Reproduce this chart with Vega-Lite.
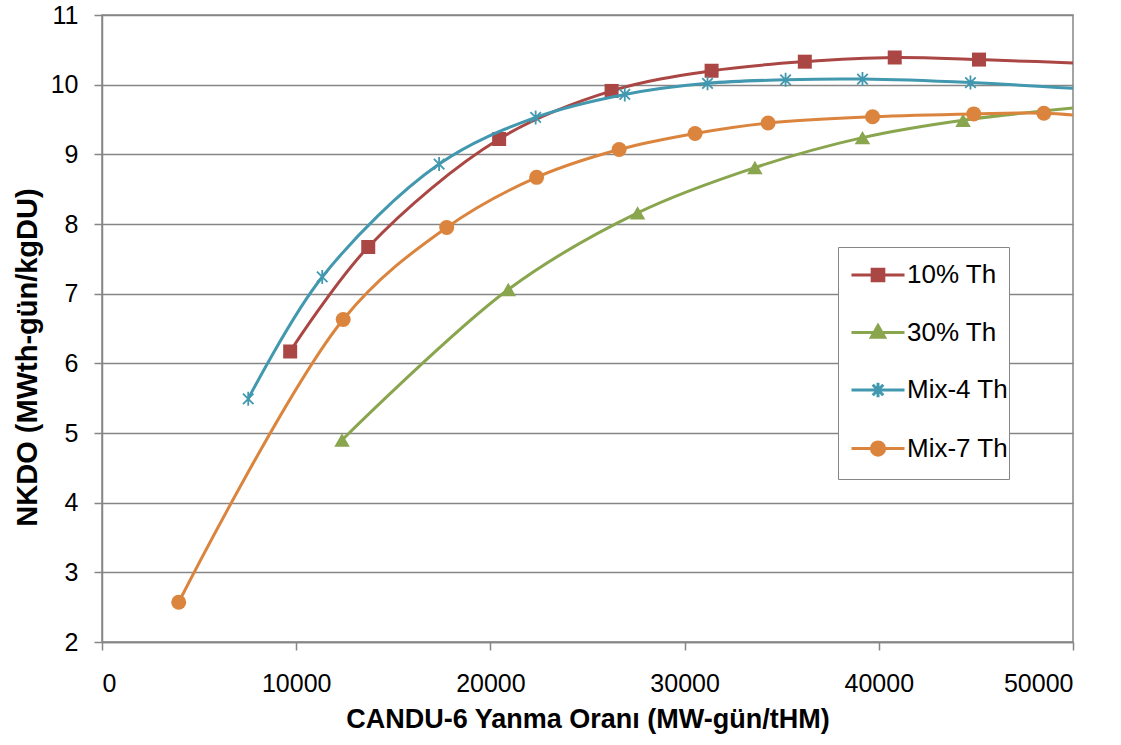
{
  "$schema": "https://vega.github.io/schema/vega-lite/v6.json",
  "width": 971,
  "height": 627,
  "autosize": "none",
  "padding": {"left": 102, "top": 15, "right": 48, "bottom": 103},
  "background": "white",
  "config": {
    "view": {"stroke": "#868686", "strokeWidth": 1.5},
    "font": "Liberation Sans",
    "axis": {
      "labelFont": "Liberation Sans",
      "labelFontSize": 25,
      "labelColor": "#000000",
      "titleFont": "Liberation Sans",
      "titleFontSize": 27,
      "titleFontWeight": "bold",
      "titleColor": "#000000",
      "domainColor": "#868686",
      "domainWidth": 1.5,
      "tickColor": "#868686",
      "tickWidth": 1.5,
      "tickSize": 8,
      "gridColor": "#868686",
      "gridWidth": 1.5
    }
  },
  "data": {
    "values": [
      {"s": "10% Th", "x": 9690, "y": 6.17},
      {"s": "10% Th", "x": 13710, "y": 7.67},
      {"s": "10% Th", "x": 20450, "y": 9.22},
      {"s": "10% Th", "x": 26240, "y": 9.91},
      {"s": "10% Th", "x": 31390, "y": 10.2},
      {"s": "10% Th", "x": 36190, "y": 10.33},
      {"s": "10% Th", "x": 40820, "y": 10.39},
      {"s": "10% Th", "x": 45160, "y": 10.36},
      {"s": "10% Th", "x": 52000, "y": 10.29},
      {"s": "30% Th", "x": 12360, "y": 4.9},
      {"s": "30% Th", "x": 20920, "y": 7.06},
      {"s": "30% Th", "x": 27580, "y": 8.16},
      {"s": "30% Th", "x": 33620, "y": 8.81},
      {"s": "30% Th", "x": 39160, "y": 9.24},
      {"s": "30% Th", "x": 44340, "y": 9.49},
      {"s": "30% Th", "x": 51000, "y": 9.69},
      {"s": "Mix-4 Th", "x": 7530, "y": 5.49},
      {"s": "Mix-4 Th", "x": 11340, "y": 7.24},
      {"s": "Mix-4 Th", "x": 17360, "y": 8.86},
      {"s": "Mix-4 Th", "x": 22330, "y": 9.53},
      {"s": "Mix-4 Th", "x": 26920, "y": 9.86},
      {"s": "Mix-4 Th", "x": 31180, "y": 10.02},
      {"s": "Mix-4 Th", "x": 35200, "y": 10.07},
      {"s": "Mix-4 Th", "x": 39160, "y": 10.08},
      {"s": "Mix-4 Th", "x": 44720, "y": 10.03},
      {"s": "Mix-4 Th", "x": 50500, "y": 9.94},
      {"s": "Mix-7 Th", "x": 3950, "y": 2.57},
      {"s": "Mix-7 Th", "x": 12420, "y": 6.63},
      {"s": "Mix-7 Th", "x": 17750, "y": 7.95},
      {"s": "Mix-7 Th", "x": 22380, "y": 8.67},
      {"s": "Mix-7 Th", "x": 26630, "y": 9.07},
      {"s": "Mix-7 Th", "x": 30540, "y": 9.3},
      {"s": "Mix-7 Th", "x": 34300, "y": 9.45},
      {"s": "Mix-7 Th", "x": 39680, "y": 9.54},
      {"s": "Mix-7 Th", "x": 44890, "y": 9.58},
      {"s": "Mix-7 Th", "x": 48500, "y": 9.59},
      {"s": "Mix-7 Th", "x": 51000, "y": 9.54}
    ]
  },
  "encoding": {
    "x": {
      "field": "x",
      "type": "quantitative",
      "scale": {"domain": [0, 50000], "nice": false, "zero": false},
      "axis": {
        "values": [0, 10000, 20000, 30000, 40000, 50000],
        "format": "d",
        "grid": false,
        "labelPadding": 21,
        "titlePadding": 10,
        "title": "CANDU-6 Yanma Oranı (MW-gün/tHM)"
      }
    },
    "y": {
      "field": "y",
      "type": "quantitative",
      "scale": {"domain": [2, 11], "nice": false, "zero": false},
      "axis": {
        "values": [2, 3, 4, 5, 6, 7, 8, 9, 10, 11],
        "grid": true,
        "labelPadding": 16,
        "title": "NKDO (MWth-gün/kgDU)",
        "titleFontSize": 29,
        "titleX": -75,
        "titleY": 342,
        "titleBaseline": "middle",
        "titleAlign": "center",
        "titleAngle": -90
      }
    }
  },
  "layer": [
    {
      "transform": [{"filter": "datum.s == '10% Th'"}],
      "mark": {"type": "line", "strokeWidth": 3, "interpolate": "catmull-rom", "color": "#AA4643", "clip": true},
      "encoding": {}
    },
    {
      "transform": [{"filter": "datum.s == '10% Th'"}],
      "mark": {"type": "point", "shape": "square", "size": 196, "filled": true, "opacity": 1, "color": "#AA4643", "clip": true},
      "encoding": {}
    },
    {
      "transform": [{"filter": "datum.s == '30% Th'"}],
      "mark": {"type": "line", "strokeWidth": 3, "interpolate": "catmull-rom", "color": "#89A54E", "clip": true},
      "encoding": {}
    },
    {
      "transform": [{"filter": "datum.s == '30% Th'"}],
      "mark": {"type": "point", "shape": "triangle-up", "size": 240, "filled": true, "opacity": 1, "color": "#89A54E", "clip": true},
      "encoding": {}
    },
    {
      "transform": [{"filter": "datum.s == 'Mix-4 Th'"}],
      "mark": {"type": "line", "strokeWidth": 3, "interpolate": "catmull-rom", "color": "#4198AF", "clip": true},
      "encoding": {}
    },
    {
      "transform": [{"filter": "datum.s == 'Mix-4 Th'"}],
      "mark": {"type": "point", "shape": "M-0.75,-0.75L0.75,0.75M-0.75,0.75L0.75,-0.75M0,-1L0,1", "size": 196, "filled": false, "opacity": 1, "strokeWidth": 1.8, "color": "#4198AF", "clip": true},
      "encoding": {}
    },
    {
      "transform": [{"filter": "datum.s == 'Mix-7 Th'"}],
      "mark": {"type": "line", "strokeWidth": 3, "interpolate": "catmull-rom", "color": "#DB843D", "clip": true},
      "encoding": {}
    },
    {
      "transform": [{"filter": "datum.s == 'Mix-7 Th'"}],
      "mark": {"type": "point", "shape": "circle", "size": 225, "filled": true, "opacity": 1, "color": "#DB843D", "clip": true},
      "encoding": {}
    },
    {
      "mark": {"type": "point", "filled": true, "opacity": 0, "size": 0, "clip": true},
      "encoding": {
        "color": {
          "field": "s",
          "type": "nominal",
          "scale": {
            "domain": ["10% Th", "30% Th", "Mix-4 Th", "Mix-7 Th"],
            "range": ["#AA4643", "#89A54E", "#4198AF", "#DB843D"]
          },
          "legend": {
            "orient": "none",
            "legendX": 736,
            "legendY": 232,
            "title": " ",
            "titleOrient": "bottom",
            "titleFontSize": 8,
            "titlePadding": 9,
            "padding": 0,
            "symbolOffset": 12,
            "symbolSize": 2809,
            "symbolStrokeWidth": 3,
            "symbolOpacity": 1,
            "rowPadding": 16.5,
            "labelOffset": 1,
            "labelFont": "Liberation Sans",
            "labelFontSize": 26,
            "labelColor": "#000000",
            "labelExpr": "datum.label + '   '",
            "strokeColor": "#868686",
            "fillColor": "#ffffff",
            "cornerRadius": 0,
            "encode": {
              "symbols": {
                "update": {
                  "fill": {"scale": "color", "field": "value"},
                  "stroke": {"scale": "color", "field": "value"},
                  "strokeWidth": {"value": 3},
                  "opacity": {"value": 1},
                  "size": {"value": 2809}
                }
              }
            }
          }
        },
        "shape": {
          "field": "s",
          "type": "nominal",
          "scale": {
            "domain": ["10% Th", "30% Th", "Mix-4 Th", "Mix-7 Th"],
            "range": [
              "M-1,0L1,0M-0.22,-0.22L0.22,-0.22L0.22,0.22L-0.22,0.22Z",
              "M-1,0L1,0M0,-0.26L0.25,0.18L-0.25,0.18Z",
              "M-1,0L1,0M-0.2,-0.2L0.2,0.2M-0.2,0.2L0.2,-0.2M0,-0.27L0,0.27",
              "M-1,0L1,0M0.25,0A0.25,0.25,0,1,1,-0.25,0A0.25,0.25,0,1,1,0.25,0Z"
            ]
          },
          "legend": {"orient": "none", "legendX": 736, "legendY": 232, "title": " "}
        }
      }
    }
  ]
}
